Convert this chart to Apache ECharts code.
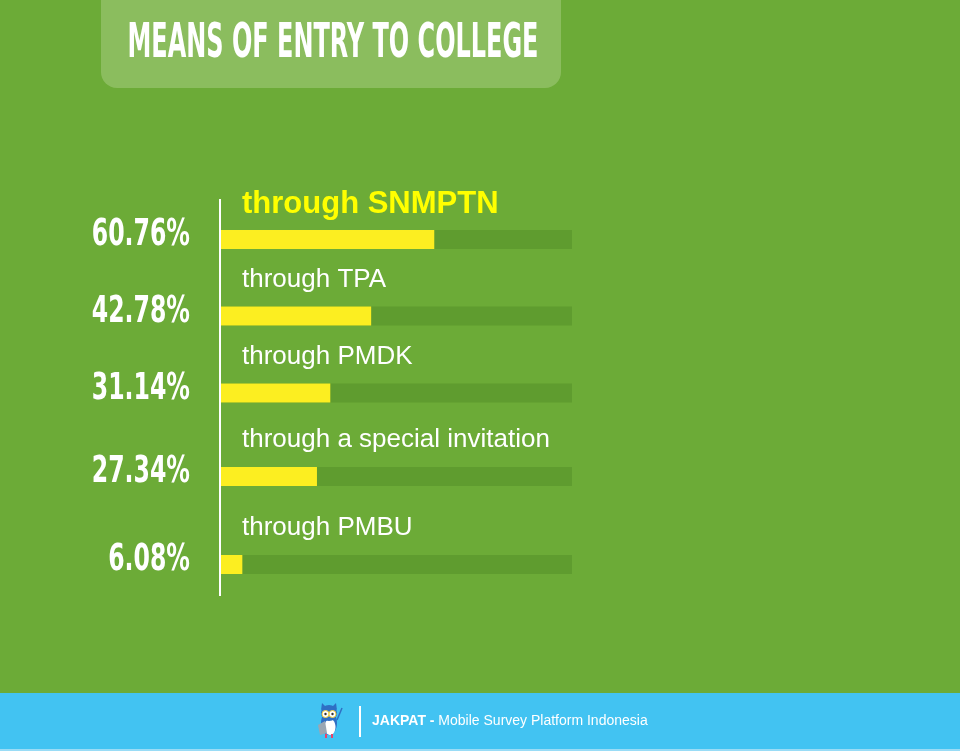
<!DOCTYPE html>
<html>
<head>
<meta charset="utf-8">
<script src="https://cdn.jsdelivr.net/npm/echarts@6/dist/echarts.min.js"></script>
<style>
html,body{margin:0;padding:0;background:#6cab37;}
#chart{width:960px;height:751px;}
</style>
</head>
<body>
<div id="chart"></div>
<script>
// ---- data ----
const titleText = 'MEANS OF ENTRY TO COLLEGE';
const categories = ['through SNMPTN', 'through TPA', 'through PMDK', 'through a special invitation', 'through PMBU'];
const values = [60.76, 42.78, 31.14, 27.34, 6.08];
const axisMax = 100;
const footerBrand = 'JAKPAT - ';
const footerText = 'Mobile Survey Platform Indonesia';

// ---- layout ----
const gridTops = [230, 306.5, 383.5, 467, 555];
const barH = 19;
const condensed = "'Liberation Sans Narrow', 'DejaVu Sans Condensed', sans-serif";

const grids = [], xAxes = [], yAxes = [], series = [];
categories.forEach((cat, i) => {
  const hl = i === 0;
  grids.push({ left: 221, width: 351, top: gridTops[i], height: barH });
  xAxes.push({ gridIndex: i, type: 'value', min: 0, max: axisMax, show: false });
  yAxes.push({
    gridIndex: i, type: 'category', data: [cat],
    axisLine: { show: false }, axisTick: { show: false }, splitLine: { show: false },
    axisLabel: { show: false }
  });
  series.push({
    type: 'bar', xAxisIndex: i, yAxisIndex: i, data: [values[i]], barWidth: barH,
    showBackground: true, backgroundStyle: { color: '#5f9c2f' },
    itemStyle: { color: '#fcee21' },
    silent: true,
    label: {
      show: true, position: [21, hl ? -10 : -14], verticalAlign: 'bottom', align: 'left',
      formatter: cat, color: hl ? '#ffff00' : '#ffffff',
      fontSize: hl ? 31 : 26, fontWeight: hl ? 'bold' : 'normal',
      fontFamily: "'Liberation Sans', Arial, sans-serif"
    }
  });
});

const decor = [
  { type: 'rect', shape: { x: 101, y: -20, width: 460, height: 108, r: 16 }, style: { fill: '#8bbd5e' } },
  { type: 'text', x: 333, y: 45, scaleX: 0.555, style: { text: titleText, fill: '#ffffff', fontSize: 48, fontWeight: 'bold', fontFamily: condensed, align: 'center', verticalAlign: 'middle' } },
  { type: 'line', shape: { x1: 220, y1: 199, x2: 220, y2: 596 }, style: { stroke: '#ffffff', lineWidth: 2 } },
  { type: 'rect', shape: { x: 0, y: 693, width: 960, height: 58 }, style: { fill: '#42c3f2' } },
  { type: 'rect', shape: { x: 0, y: 749, width: 960, height: 2 }, style: { fill: '#9adcf6' } },
  { type: 'line', shape: { x1: 360, y1: 706, x2: 360, y2: 737 }, style: { stroke: '#ffffff', lineWidth: 2 } },
  // owl icon
  { type: 'group', children: [
    { type: 'ellipse', shape: { cx: 329, cy: 723, rx: 8, ry: 12 }, style: { fill: '#2f6fc4' } },
    { type: 'ellipse', shape: { cx: 330, cy: 727, rx: 5.5, ry: 8 }, style: { fill: '#ffffff' } },
    { type: 'circle', shape: { cx: 329, cy: 713, r: 8 }, style: { fill: '#2f6fc4' } },
    { type: 'polygon', shape: { points: [[321, 710], [322, 703], [326, 707]] }, style: { fill: '#2f6fc4' } },
    { type: 'polygon', shape: { points: [[337, 710], [336, 703], [332, 707]] }, style: { fill: '#2f6fc4' } },
    { type: 'circle', shape: { cx: 325.5, cy: 714, r: 3.5 }, style: { fill: '#ffffff', stroke: '#f4d03f', lineWidth: 1 } },
    { type: 'circle', shape: { cx: 332.5, cy: 714, r: 3.5 }, style: { fill: '#ffffff', stroke: '#f4d03f', lineWidth: 1 } },
    { type: 'circle', shape: { cx: 325.5, cy: 714, r: 1.2 }, style: { fill: '#333' } },
    { type: 'circle', shape: { cx: 332.5, cy: 714, r: 1.2 }, style: { fill: '#333' } },
    { type: 'polygon', shape: { points: [[318, 725], [325, 721], [327, 733], [320, 735]] }, style: { fill: '#9aa7b3' } },
    { type: 'line', shape: { x1: 337, y1: 720, x2: 342, y2: 708 }, style: { stroke: '#2f6fc4', lineWidth: 1.5 } },
    { type: 'rect', shape: { x: 325, y: 734, width: 2, height: 4 }, style: { fill: '#e8456b' } },
    { type: 'rect', shape: { x: 331, y: 734, width: 2, height: 4 }, style: { fill: '#e8456b' } }
  ]},
  { type: 'text', x: 372, y: 721, style: {
    text: '{b|' + footerBrand + '}{n|' + footerText + '}',
    verticalAlign: 'middle', align: 'left',
    rich: {
      b: { fill: '#ffffff', fontSize: 14, fontWeight: 'bold', fontFamily: "'Liberation Sans', sans-serif" },
      n: { fill: '#ffffff', fontSize: 14, fontFamily: "'Liberation Sans', sans-serif" }
    }
  } }
];

const chart = echarts.init(document.getElementById('chart'), null, { renderer: 'canvas' });
chart.setOption({
  backgroundColor: '#6cab37',
  animation: false,
  grid: grids, xAxis: xAxes, yAxis: yAxes, series: series,
  graphic: decor
});

// percent value labels, positioned through each grid's own scales
const pctLabels = categories.map((cat, i) => {
  const p = chart.convertToPixel({ gridIndex: i }, [0, cat]);
  return {
    type: 'text', x: p[0] - 31, y: p[1] - 4, scaleX: 0.69,
    style: {
      text: values[i].toFixed(2) + '%', fill: '#ffffff', fontSize: 38, fontWeight: 'bold',
      fontFamily: condensed, align: 'right', verticalAlign: 'middle'
    }
  };
});
chart.setOption({ graphic: decor.concat(pctLabels) });
</script>
</body>
</html>
